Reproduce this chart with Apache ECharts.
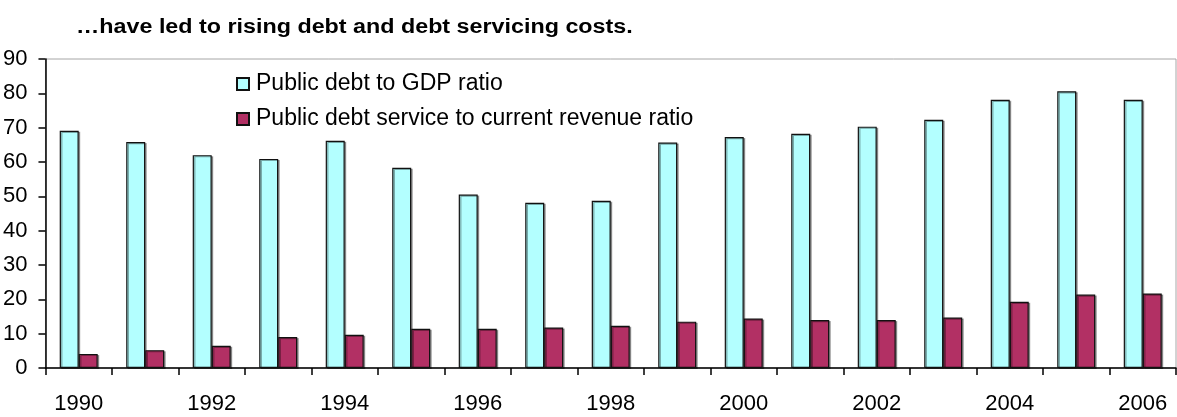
<!DOCTYPE html>
<html>
<head>
<meta charset="utf-8">
<script src="https://cdn.jsdelivr.net/npm/echarts@6/dist/echarts.min.js"></script>
<style>
  html, body { margin: 0; padding: 0; background: #ffffff; }
  #chart { width: 1177px; height: 417px; }
</style>
</head>
<body>
<div id="chart"></div>
<script>
// Years on the category axis
const years = ['1990','1991','1992','1993','1994','1995','1996','1997','1998',
               '1999','2000','2001','2002','2003','2004','2005','2006'];

// Public debt to GDP ratio (%)
const debtToGdp = [69.1, 65.8, 62.0, 60.9, 66.2, 58.3, 50.5, 48.1, 48.7,
                   65.7, 67.3, 68.2, 70.3, 72.3, 78.1, 80.6, 78.1];

// Public debt service to current revenue ratio (%)
const debtServiceToRevenue = [4.1, 5.2, 6.5, 9.0, 9.7, 11.4, 11.4, 11.8, 12.3,
                              13.5, 14.4, 14.0, 14.0, 14.7, 19.3, 21.4, 21.7];

const seriesNames = ['Public debt to GDP ratio',
                     'Public debt service to current revenue ratio'];

const titleText = '\u2026have led to rising debt and debt servicing costs.';

const FONT = 'Arial, "Liberation Sans", sans-serif';

const chart = echarts.init(document.getElementById('chart'), null, { renderer: 'canvas' });

const barShadow = {
  shadowColor: 'rgba(0,0,0,0.35)',
  shadowOffsetX: 1.5,
  shadowOffsetY: 1,
  shadowBlur: 0
};

chart.setOption({
  animation: false,
  backgroundColor: '#ffffff',
  // Heading, drawn slightly widened like a wide-set bold caption
  graphic: [{
    type: 'text',
    x: 76,
    y: 27,
    scaleX: 1.165,
    scaleY: 1,
    style: {
      text: titleText,
      x: 0,
      y: 0,
      fill: '#000000',
      font: 'bold 20px Arial, "Liberation Sans", sans-serif',
      textAlign: 'left',
      textVerticalAlign: 'middle'
    }
  }],
  legend: {
    orient: 'vertical',
    left: 236,
    top: 72,
    padding: 0,
    itemWidth: 12,
    itemHeight: 12,
    itemGap: 11,
    icon: 'rect',
    textStyle: { fontFamily: FONT, fontSize: 23, color: '#000000', lineHeight: 24, padding: [0, 0, 0, 2] },
    data: seriesNames
  },
  grid: {
    left: 45,
    right: 1,
    top: 59,
    bottom: 49,
    show: true,
    borderColor: '#a6a6a6',
    borderWidth: 1,
    containLabel: false
  },
  xAxis: {
    type: 'category',
    data: years,
    boundaryGap: true,
    axisLine: { show: true, lineStyle: { color: '#000000', width: 1.5 } },
    axisTick: { show: true, interval: 0, length: 7, inside: false, lineStyle: { color: '#000000', width: 1.5 } },
    axisLabel: { interval: 1, margin: 25, fontFamily: FONT, fontSize: 22, color: '#000000' },
    splitLine: { show: false }
  },
  yAxis: {
    type: 'value',
    min: 0,
    max: 90,
    interval: 10,
    axisLine: { show: true, lineStyle: { color: '#000000', width: 1.5 } },
    axisTick: { show: true, length: 7, inside: false, lineStyle: { color: '#000000', width: 1.5 } },
    axisLabel: { margin: 18, fontFamily: FONT, fontSize: 22, color: '#000000' },
    splitLine: { show: false }
  },
  series: [
    {
      name: seriesNames[0],
      type: 'bar',
      data: debtToGdp,
      barWidth: 19,
      barGap: '0%',
      itemStyle: Object.assign({ color: '#b3ffff', borderColor: '#111111', borderWidth: 1.2 }, barShadow)
    },
    {
      name: seriesNames[1],
      type: 'bar',
      data: debtServiceToRevenue,
      barWidth: 19,
      barGap: '0%',
      itemStyle: Object.assign({ color: '#b23064', borderColor: '#111111', borderWidth: 1.2 }, barShadow)
    }
  ]
});
</script>
</body>
</html>
